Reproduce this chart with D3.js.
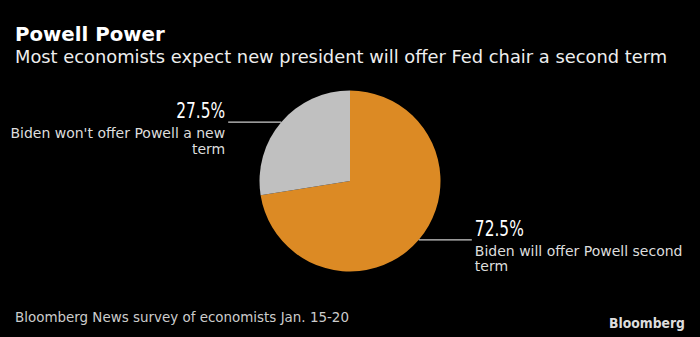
<!DOCTYPE html>
<html>
<head>
<meta charset="utf-8">
<script src="https://cdn.jsdelivr.net/npm/d3@7"></script>
<style>
  html, body { margin: 0; padding: 0; background: #000; }
  svg { display: block; }
  text { font-family: "DejaVu Sans", sans-serif; }
</style>
</head>
<body>
<svg id="chart"></svg>
<script>
const categories = ["Biden will offer Powell second term", "Biden won't offer Powell a new term"];
const values = [72.5, 27.5];
const sliceColors = ["#dc8a24", "#c0c0c0"];

const width = 700, height = 337;
const cx = 350, cy = 181, radius = 90.5;

const svg = d3.select('#chart')
  .attr('width', width)
  .attr('height', height);

svg.append('rect')
  .attr('width', width)
  .attr('height', height)
  .attr('fill', '#000');

// titles
svg.append('text')
  .attr('x', 15).attr('y', 41)
  .attr('fill', '#fff')
  .attr('font-size', 19.8)
  .attr('font-weight', 'bold')
  .text('Powell Power');

svg.append('text')
  .attr('x', 15).attr('y', 63)
  .attr('fill', '#eee')
  .attr('font-size', 17.85)
  .text('Most economists expect new president will offer Fed chair a second term');

svg.append('text')
  .attr('x', 15).attr('y', 322)
  .attr('fill', '#ccc')
  .attr('font-size', 13.45)
  .text('Bloomberg News survey of economists Jan. 15-20');

svg.append('text')
  .attr('x', 685).attr('y', 328)
  .attr('text-anchor', 'end')
  .attr('fill', '#ddd')
  .attr('font-size', 14.5)
  .attr('font-weight', 'bold')
  .attr('font-family', 'Liberation Sans, Arial, sans-serif')
  .attr('textLength', 76)
  .attr('lengthAdjust', 'spacingAndGlyphs')
  .text('Bloomberg');

const data = categories.map((c, i) => ({ label: c, value: values[i], color: sliceColors[i] }));

const pie = d3.pie()
  .value(d => d.value)
  .sort(null);

const arc = d3.arc()
  .innerRadius(0)
  .outerRadius(radius);

const g = svg.append('g')
  .attr('transform', `translate(${cx},${cy})`);

const arcs = pie(data);

g.selectAll('path')
  .data(arcs)
  .join('path')
    .attr('d', arc)
    .attr('fill', d => d.data.color);

// labels
const leader = 53;
const wrapWidth = 216;

arcs.forEach(d => {
  const mid = (d.startAngle + d.endAngle) / 2;
  const px = Math.sin(mid) * radius;
  const py = -Math.cos(mid) * radius;
  const right = px > 0;
  const ex = right ? px + leader : px - leader;

  g.append('line')
    .attr('x1', px).attr('y1', py)
    .attr('x2', ex).attr('y2', py)
    .attr('stroke', '#ccc')
    .attr('stroke-width', 1.2);

  const tx = right ? ex + 3 : ex - 3;
  const anchor = right ? 'start' : 'end';

  g.append('text')
    .attr('x', tx).attr('y', py - 4)
    .attr('text-anchor', anchor)
    .attr('fill', '#fff')
    .attr('font-size', 20.5)
    .attr('textLength', 49)
    .attr('lengthAdjust', 'spacingAndGlyphs')
    .text(d.data.value.toFixed(1) + '%');

  const label = g.append('text')
    .attr('text-anchor', anchor)
    .attr('fill', '#ddd')
    .attr('font-size', 14);

  const words = d.data.label.split(' ');
  let line = [];
  let lineNo = 0;
  let tspan = label.append('tspan').attr('x', tx).attr('y', py + 16);
  words.forEach(w => {
    line.push(w);
    tspan.text(line.join(' '));
    if (tspan.node().getComputedTextLength() > wrapWidth && line.length > 1) {
      line.pop();
      tspan.text(line.join(' '));
      line = [w];
      lineNo++;
      tspan = label.append('tspan').attr('x', tx).attr('y', py + 16 + lineNo * 15.5).text(w);
    }
  });
});
</script>
</body>
</html>
